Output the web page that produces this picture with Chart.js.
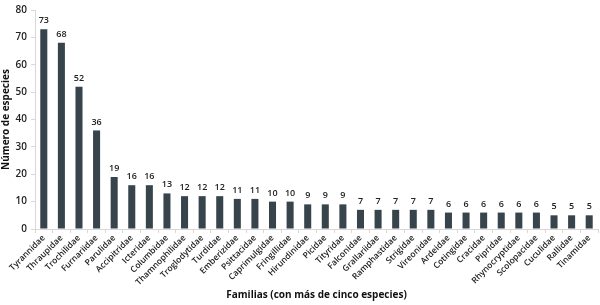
<!DOCTYPE html>
<html>
<head>
<meta charset="utf-8">
<script src="https://cdn.jsdelivr.net/npm/chart.js@4"></script>
<style>
  html, body { margin: 0; padding: 0; background: #fff; }
  #wrap { width: 600px; height: 305px; }
</style>
</head>
<body>
<div id="wrap"><canvas id="myChart"></canvas></div>
<script>
var families = [
    'Tyrannidae', 'Thraupidae', 'Trochilidae', 'Furnariidae', 'Parulidae',
    'Accipitridae', 'Icteridae', 'Columbidae', 'Thamnophilidae', 'Troglodytidae',
    'Turdidae', 'Emberizidae', 'Psittacidae', 'Caprimulgidae', 'Fringillidae',
    'Hirundinidae', 'Picidae', 'Tityridae', 'Falconidae', 'Grallariidae',
    'Ramphastidae', 'Strigidae', 'Vireonidae', 'Ardeidae', 'Cotingidae',
    'Cracidae', 'Pipridae', 'Rhynocryptidae', 'Scolopacidae', 'Cuculidae',
    'Rallidae', 'Tinamidae'
];
var species = [73, 68, 52, 36, 19, 16, 16, 13, 12, 12, 12, 11, 11, 10, 10,
    9, 9, 9, 7, 7, 7, 7, 7, 6, 6, 6, 6, 6, 6, 5, 5, 5];
var yTicks = [0, 10, 20, 30, 40, 50, 60, 70, 80];

var barLabels = {
    id: 'barLabels',
    afterDatasetsDraw: function(chart) {
        var c = chart.ctx;
        var meta = chart.getDatasetMeta(0);
        c.save();
        c.font = '600 9px "Open Sans"';
        c.fillStyle = '#222';
        c.textAlign = 'center';
        c.textBaseline = 'bottom';
        meta.data.forEach(function(bar, i) {
            c.fillText(species[i], bar.x, bar.y - 4);
        });
        c.restore();
    }
};

var ctx = document.getElementById('myChart').getContext('2d');
var myChart = new Chart(ctx, {
    type: 'bar',
    data: {
        labels: families,
        datasets: [{
            label: 'Número de especies',
            data: species,
            backgroundColor: '#37444c',
            barPercentage: 0.4,
            categoryPercentage: 1
        }]
    },
    options: {
        responsive: true,
        maintainAspectRatio: false,
        animation: false,
        layout: { padding: { top: 9, right: 2, left: 0, bottom: 0 } },
        plugins: {
            legend: { display: false },
            tooltip: { enabled: false }
        },
        scales: {
            x: {
                grid: { display: true, drawOnChartArea: false, tickLength: 4, color: '#d8d8d8', offset: true },
                border: { color: '#d8d8d8' },
                ticks: {
                    autoSkip: false,
                    maxRotation: 45,
                    minRotation: 45,
                    color: '#222',
                    padding: 0,
                    font: { family: 'Open Sans', size: 8.5, weight: '600' }
                },
                title: {
                    display: true,
                    text: 'Familias (con más de cinco especies)',
                    color: '#111',
                    font: { family: 'Open Sans', size: 10, weight: 'bold' },
                    padding: { top: 8, bottom: 4 }
                },
                afterFit: function(scale) { scale.height = 76; }
            },
            y: {
                min: 0,
                max: 80,
                afterBuildTicks: function(scale) {
                    scale.ticks = yTicks.map(function(v) { return { value: v }; });
                },
                grid: { display: true, drawOnChartArea: false, tickLength: 4, color: '#d8d8d8' },
                border: { color: '#d8d8d8' },
                ticks: {
                    color: '#222',
                    padding: 4,
                    font: { family: 'Open Sans', size: 10, weight: '600' }
                },
                title: {
                    display: true,
                    text: 'Número de especies',
                    color: '#111',
                    font: { family: 'Open Sans', size: 10, weight: 'bold' },
                    padding: { top: 0, bottom: 2 }
                },
                afterFit: function(scale) { scale.width = 35; }
            }
        }
    },
    plugins: [barLabels]
});
</script>
</body>
</html>
